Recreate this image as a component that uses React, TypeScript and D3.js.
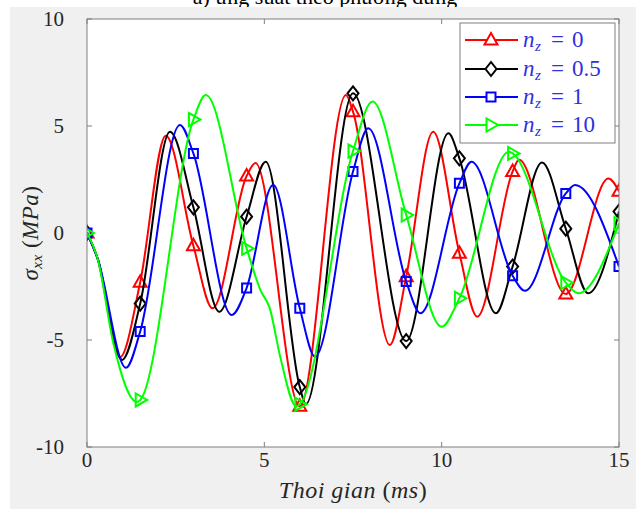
import React from "react";
import * as d3 from "d3";

// ---- Data (time in ms, stress in MPa) ----
const xTicks = [0, 5, 10, 15];
const yTicks = [-10, -5, 0, 5, 10];
const markerTimes = [0, 1.5, 3, 4.5, 6, 7.5, 9, 10.5, 12, 13.5, 15];

const seriesNames = ["0", "0.5", "1", "10"];
const seriesColors = ["#ff0000", "#000000", "#0000ff", "#00ff00"];
const seriesMarkers = ["tri-up", "diamond", "square", "tri-right"];

const redNz0: [number, number][] = [
  [0, 0], [0.3, -1.2], [0.93, -5.8], [1.5, -2.3], [2.22, 4.55], [3, -0.6], [3.54, -3.52],
  [4.5, 2.66], [4.75, 3.27], [6, -8.1], [7.3, 6.45], [7.5, 5.67], [8.54, -5.23], [9, -2.04],
  [9.76, 4.73], [10.5, -0.95], [11.0, -3.91], [12, 2.87], [12.18, 3.42], [13.5, -2.85],
  [14.7, 2.55], [15, 1.95],
];
const blackNz05: [number, number][] = [
  [0, 0], [0.3, -1.2], [0.99, -5.93], [1.5, -3.3], [2.34, 4.73], [3, 1.2], [3.73, -3.68],
  [4.5, 0.76], [5.04, 3.33], [6, -7.2], [6.17, -8.0], [7.5, 6.53], [9, -5.05], [10.19, 4.66],
  [10.5, 3.49], [11.53, -3.75], [12, -1.57], [12.83, 3.3], [13.5, 0.2], [14.13, -2.82], [15, 1.0],
];
const blueNz1: [number, number][] = [
  [0, 0], [0.3, -1.2], [1.1, -6.3], [1.5, -4.6], [2.62, 5.05], [3, 3.72], [4.08, -3.83],
  [4.5, -2.57], [5.25, 2.24], [6, -3.52], [6.43, -5.78], [7.5, 2.87], [7.93, 4.89], [9, -2.27],
  [9.4, -3.75], [10.5, 2.32], [10.84, 3.33], [12, -2.0], [12.35, -2.7], [13.5, 1.85],
  [13.76, 2.24], [15, -1.57],
];
const greenNz10: [number, number][] = [
  [0, 0], [0.3, -1.2], [0.75, -5.2], [1.41, -7.9], [1.5, -7.8], [3, 5.3], [3.35, 6.45],
  [4.5, -0.72], [4.9, -2.7], [5.15, -3.5], [5.45, -5.8], [5.9, -8.1], [6, -8.0], [7.5, 3.83],
  [8.05, 6.14], [9, 0.84], [10.0, -4.38], [10.5, -3.05], [11.9, 3.8], [12, 3.72],
  [13.5, -2.32], [13.85, -2.82], [15, 0.45],
];
const allSeries = [redNz0, blackNz05, blueNz1, greenNz10];

// ---- Layout ----
const W = 636;
const H = 509;
const plot = { left: 87, right: 619, top: 19, bottom: 447 };
const axisColor = "#7f7f7f";
const textColor = "#262626";
const legendBlue = "#3030e0";
const serif = "'Liberation Serif', 'DejaVu Serif', serif";

function markerPath(type: string): string {
  switch (type) {
    case "tri-up":
      return "M-6.5,4.5L6.5,4.5L0,-7Z";
    case "diamond":
      return "M0,-7L5.5,0L0,7L-5.5,0Z";
    case "square":
      return "M-4.5,-4.5L4.5,-4.5L4.5,4.5L-4.5,4.5Z";
    default:
      return "M-4.5,-6.5L-4.5,6.5L7,0Z";
  }
}

export default function App() {
  const x = d3.scaleLinear().domain([0, 15]).range([plot.left, plot.right]);
  const y = d3.scaleLinear().domain([-10, 10]).range([plot.bottom, plot.top]);
  const line = d3
    .line<[number, number]>()
    .x((d) => x(d[0]))
    .y((d) => y(d[1]))
    .curve(d3.curveMonotoneX);

  const legendX = 460;
  const legendY = 23;
  const legendRows = [40, 69, 97, 125];

  return (
    <svg
      width={W}
      height={H}
      style={{ position: "absolute", left: 0, top: 0, background: "#ffffff" }}
    >
      <text x={325} y={4} textAnchor="middle" fontFamily={serif} fontSize={22} fill="#000">
        a) ứng suất theo phương đứng
      </text>
      <rect x={10} y={7} width={W - 10} height={H - 7} fill="#f0f0f0" />
      <rect
        x={plot.left}
        y={plot.top}
        width={plot.right - plot.left}
        height={plot.bottom - plot.top}
        fill="#ffffff"
      />
      <defs>
        <clipPath id="plotClip">
          <rect
            x={plot.left}
            y={plot.top}
            width={plot.right - plot.left}
            height={plot.bottom - plot.top}
          />
        </clipPath>
      </defs>

      {/* ticks */}
      {xTicks.map((t) => (
        <g key={"xt" + t}>
          <line x1={x(t)} x2={x(t)} y1={plot.bottom} y2={plot.bottom - 5} stroke={axisColor} />
          <line x1={x(t)} x2={x(t)} y1={plot.top} y2={plot.top + 5} stroke={axisColor} />
          <text
            x={x(t)}
            y={467}
            textAnchor="middle"
            fontFamily={serif}
            fontSize={21}
            fill={textColor}
          >
            {t}
          </text>
        </g>
      ))}
      {yTicks.map((t) => (
        <g key={"yt" + t}>
          <line x1={plot.left} x2={plot.left + 5} y1={y(t)} y2={y(t)} stroke={axisColor} />
          <line x1={plot.right} x2={plot.right - 5} y1={y(t)} y2={y(t)} stroke={axisColor} />
          <text
            x={64}
            y={y(t) + 7}
            textAnchor="end"
            fontFamily={serif}
            fontSize={21}
            fill={textColor}
          >
            {t}
          </text>
        </g>
      ))}

      {/* curves */}
      <g clipPath="url(#plotClip)">
        {allSeries.map((s, i) => (
          <g key={"s" + i}>
            <path d={line(s) || ""} fill="none" stroke={seriesColors[i]} strokeWidth={2} />
            {s
              .filter((d) => markerTimes.some((m) => Math.abs(m - d[0]) < 1e-9))
              .map((d, j) => (
                <path
                  key={j}
                  d={markerPath(seriesMarkers[i])}
                  transform={`translate(${x(d[0])},${y(d[1])})`}
                  fill="none"
                  stroke={seriesColors[i]}
                  strokeWidth={2}
                />
              ))}
          </g>
        ))}
      </g>

      {/* axis box */}
      <rect
        x={plot.left}
        y={plot.top}
        width={plot.right - plot.left}
        height={plot.bottom - plot.top}
        fill="none"
        stroke={axisColor}
        strokeWidth={1}
      />

      {/* axis labels */}
      <text
        x={(plot.left + plot.right) / 2}
        y={498}
        textAnchor="middle"
        fontFamily={serif}
        fontSize={24}
        letterSpacing={0.5}
        fill={textColor}
      >
        <tspan fontStyle="italic">Thoi gian </tspan>
        <tspan>(</tspan>
        <tspan fontStyle="italic">ms</tspan>
        <tspan>)</tspan>
      </text>
      <text
        transform={`translate(38,${(plot.top + plot.bottom) / 2}) rotate(-90)`}
        textAnchor="middle"
        fontFamily={serif}
        fontSize={23}
        letterSpacing={0.5}
        fill={textColor}
      >
        <tspan fontStyle="italic">σ</tspan>
        <tspan fontStyle="italic" fontSize={15} dy={4}>
          xx
        </tspan>
        <tspan dy={-4}> (</tspan>
        <tspan fontStyle="italic">MPa</tspan>
        <tspan>)</tspan>
      </text>

      {/* legend */}
      <rect x={legendX} y={legendY} width={155} height={120} fill="#ffffff" stroke={axisColor} />
      {seriesNames.map((name, i) => (
        <g key={"lg" + i}>
          <line
            x1={465}
            x2={518}
            y1={legendRows[i]}
            y2={legendRows[i]}
            stroke={seriesColors[i]}
            strokeWidth={2}
          />
          <path
            d={markerPath(seriesMarkers[i])}
            transform={`translate(491,${legendRows[i]})`}
            fill="#ffffff"
            stroke={seriesColors[i]}
            strokeWidth={2}
          />
          <text fontFamily={serif} fill={legendBlue}>
            <tspan x={523} y={legendRows[i] + 7} fontStyle="italic" fontSize={23}>
              n
            </tspan>
            <tspan x={535} y={legendRows[i] + 11} fontStyle="italic" fontSize={15}>
              z
            </tspan>
            <tspan x={551} y={legendRows[i] + 7} fontSize={23}>
              =
            </tspan>
            <tspan x={572} y={legendRows[i] + 7} fontSize={23}>
              {name}
            </tspan>
          </text>
        </g>
      ))}
    </svg>
  );
}
